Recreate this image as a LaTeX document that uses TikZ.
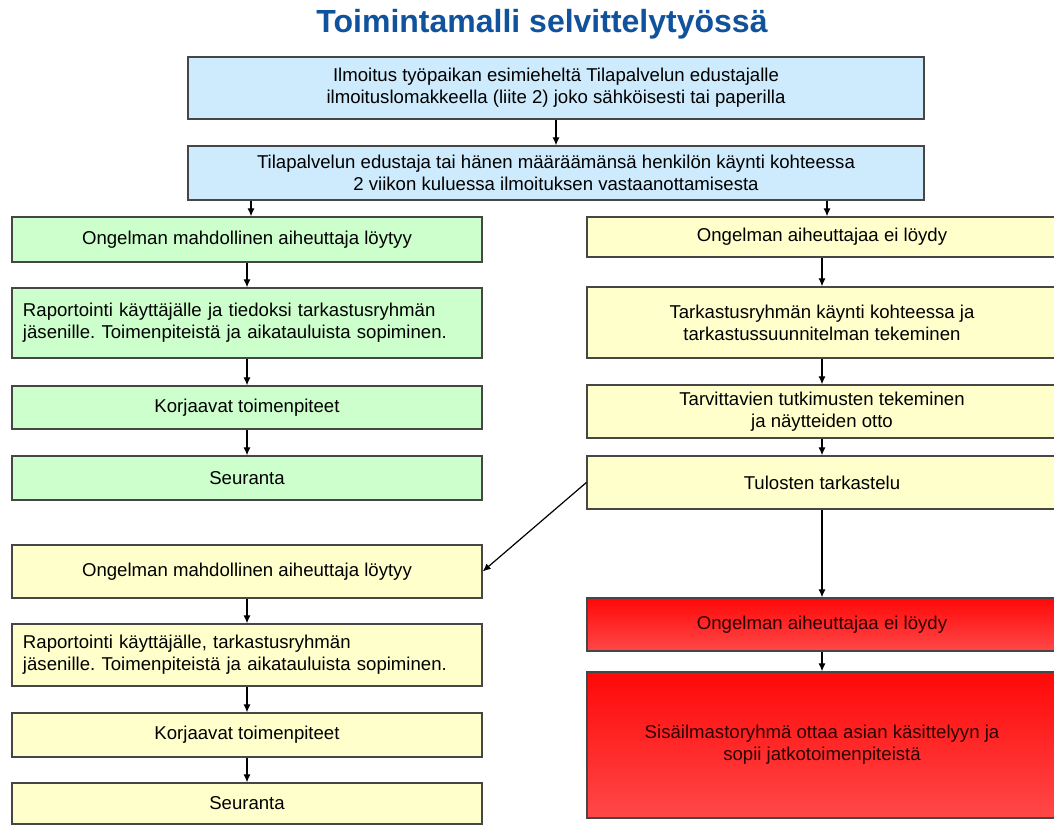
\documentclass[tikz,border=0pt]{standalone}
\usepackage{fontspec}
\setmainfont{Liberation Sans}
\usetikzlibrary{arrows.meta}
\frenchspacing

\definecolor{titleblue}{RGB}{16,82,156}
\definecolor{boxblue}{RGB}{205,235,252}
\definecolor{boxgreen}{RGB}{204,255,204}
\definecolor{boxyellow}{RGB}{255,255,204}
\definecolor{edge}{RGB}{70,70,70}
\definecolor{redtop}{RGB}{255,8,8}
\definecolor{redbottom}{RGB}{255,72,72}
\definecolor{redtext}{RGB}{45,0,0}

\tikzset{
  box/.style={draw=edge, line width=1.3pt, rectangle, inner xsep=11pt,
    inner ysep=0pt, align=center, font=\fontsize{18.6}{22}\selectfont},
  colwide/.style={minimum width=470pt},
  infobox/.style={box, fill=boxblue, minimum width=736pt},
  greenbox/.style={box, colwide, fill=boxgreen},
  yellowbox/.style={box, colwide, fill=boxyellow},
  redbox/.style={box, colwide, top color=redtop, bottom color=redbottom,
    text=redtext},
  leftext/.style={text width=448pt, align=left},
  flow/.style={draw=black, line width=1.2pt, -{Latex[length=8pt,width=7pt]}}
}

\begin{document}
\begin{tikzpicture}[x=1pt, y=1pt]
\useasboundingbox (0,0) rectangle (1054,-825);
\fill[white] (0,0) rectangle (1054,-825);
\clip (0,0) rectangle (1054,-825);

% title
\node (title) [anchor=base, text=titleblue,
  font=\fontsize{32}{38}\selectfont\bfseries] at (542,-32)
  {Toimintamalli selvittelytyössä};

% common start
\node (ilm) [infobox, minimum height=62pt] at (556,-88)
  {Ilmoitus työpaikan esimieheltä Tilapalvelun edustajalle\\
   ilmoituslomakkeella (liite 2) joko sähköisesti tai paperilla};
\node (kaynti) [infobox, minimum height=54pt] at (556,-173)
  {Tilapalvelun edustaja tai hänen määräämänsä henkilön käynti kohteessa\\
   2 viikon kuluessa ilmoituksen vastaanottamisesta};

% left branch: cause found
\node (g1) [greenbox, minimum height=45pt] at (247,-239.5)
  {Ongelman mahdollinen aiheuttaja löytyy};
\node (g2) [greenbox, leftext, minimum height=70pt] at (247,-323)
  {Raportointi käyttäjälle ja tiedoksi tarkastusryhmän\\
   jäsenille. Toimenpiteistä ja aikatauluista sopiminen.};
\node (g3) [greenbox, minimum height=43pt] at (247,-407.5)
  {Korjaavat toimenpiteet};
\node (g4) [greenbox, minimum height=44pt] at (247,-478)
  {Seuranta};

% right branch: cause not found
\node (y1) [yellowbox, minimum height=40pt] at (822,-237)
  {Ongelman aiheuttajaa ei löydy};
\node (y2) [yellowbox, minimum height=71pt] at (822,-322.5)
  {Tarkastusryhmän käynti kohteessa ja\\
   tarkastussuunnitelman tekeminen};
\node (y3) [yellowbox, minimum height=53pt] at (822,-411.5)
  {Tarvittavien tutkimusten tekeminen\\
   ja näytteiden otto};
\node (y4) [yellowbox, minimum height=53pt] at (822,-482.5)
  {Tulosten tarkastelu};

% after the investigation: cause found
\node (l1) [yellowbox, minimum height=53pt] at (247,-571.5)
  {Ongelman mahdollinen aiheuttaja löytyy};
\node (l2) [yellowbox, leftext, minimum height=62pt] at (247,-655)
  {Raportointi käyttäjälle, tarkastusryhmän\\
   jäsenille. Toimenpiteistä ja aikatauluista sopiminen.};
\node (l3) [yellowbox, minimum height=44pt] at (247,-735)
  {Korjaavat toimenpiteet};
\node (l4) [yellowbox, minimum height=41pt] at (247,-803.5)
  {Seuranta};

% after the investigation: cause still not found
\node (r1) [redbox, minimum height=53pt] at (822,-624.5)
  {Ongelman aiheuttajaa ei löydy};
\node (r2) [redbox, minimum height=146pt] at (822,-745)
  {Sisäilmastoryhmä ottaa asian käsittelyyn ja\\
   sopii jatkotoimenpiteistä};

% connectors
\draw[flow] (ilm.south) -- (kaynti.north);
\draw[flow] ([xshift=4pt]g1.north |- kaynti.south) -- ([xshift=4pt]g1.north);
\draw[flow] ([xshift=5pt]y1.north |- kaynti.south) -- ([xshift=5pt]y1.north);
\draw[flow] (g1) -- (g2);
\draw[flow] (g2) -- (g3);
\draw[flow] (g3) -- (g4);
\draw[flow] (y1) -- (y2);
\draw[flow] (y2) -- (y3);
\draw[flow] (y3) -- (y4);
\draw[flow] (y4.west) -- (l1.east);
\draw[flow] (y4) -- (r1);
\draw[flow] (r1) -- (r2);
\draw[flow] (l1) -- (l2);
\draw[flow] (l2) -- (l3);
\draw[flow] (l3) -- (l4);
\end{tikzpicture}
\end{document}
